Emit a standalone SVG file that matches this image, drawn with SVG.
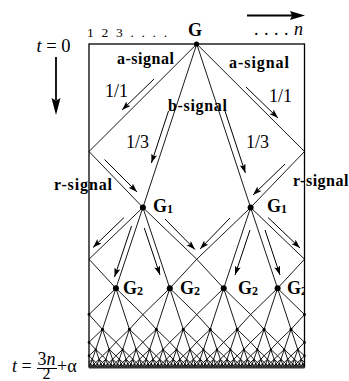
<svg xmlns="http://www.w3.org/2000/svg" width="349" height="381" viewBox="0 0 349 381">
<style>
text{font-family:"Liberation Serif","Times New Roman",serif;fill:#000}
.lbl{font-weight:bold;font-size:16px}
.num{font-size:18px}
.gl{font-weight:bold;font-size:18px}
.sub{font-size:12px}
.sig{fill:none;stroke:#000;stroke-width:0.9;vector-effect:non-scaling-stroke}
.arr{fill:none;stroke:#000;stroke-width:1;marker-end:url(#ah)}
.frame{fill:none;stroke:#000;stroke-width:1.3}
.dot{fill:#000}
</style>
<defs>
<marker id="ah" markerUnits="userSpaceOnUse" markerWidth="10" markerHeight="8" refX="9" refY="3" orient="auto"><path d="M0,0 L9,3 L0,6 L2,3 Z" fill="#000"/></marker>
<path id="c" class="sig" d="M0.5,0 L0,0.64 L0.25,1 M0.5,0 L1,0.64 L0.75,1 M0.5,0 L0.25,1 M0.5,0 L0.75,1"/>
<g id="d1"><use href="#c"/><use href="#c" x="1"/></g>
<g id="d2"><use href="#d1"/><use href="#d1" x="2"/></g>
<g id="d3"><use href="#d2"/><use href="#d2" x="4"/></g>
<g id="d4"><use href="#d3"/><use href="#d3" x="8"/></g>
<g id="d5"><use href="#d4"/><use href="#d4" x="16"/></g>
<g id="d6"><use href="#d5"/><use href="#d5" x="32"/></g>
<clipPath id="wallclip"><rect x="0" y="0" width="304.5" height="381"/></clipPath>
</defs>

<g id="axes">
<line x1="247" y1="15.5" x2="292" y2="15.5" stroke="#000" stroke-width="1.8"/>
<path d="M305,15.5 L290,11 L292,15.5 L290,20 Z" fill="#000"/>
<line x1="56" y1="57" x2="56" y2="100" stroke="#000" stroke-width="1.8"/>
<path d="M56,115 L51.5,98 L56,100.5 L60.5,98 Z" fill="#000"/>
<text x="36.5" y="52" font-size="18.5"><tspan font-style="italic">t</tspan> = 0</text>
<text x="87" y="37" font-size="13.5" textLength="80" lengthAdjust="spacing">1 2 3 . . . .</text>
<text x="254" y="35" font-size="18" textLength="49" lengthAdjust="spacing">. . . . <tspan font-style="italic">n</tspan></text>
<text x="12" y="372" font-size="18"><tspan font-style="italic">t</tspan> =</text>
<text x="37.5" y="365" font-size="18">3<tspan font-style="italic">n</tspan></text>
<line x1="37" y1="368.5" x2="57" y2="368.5" stroke="#000" stroke-width="1"/>
<text x="42.5" y="378.8" font-size="16">2</text>
<text x="57" y="372" font-size="18">+α</text>
</g>

<g id="frame">
<rect class="frame" x="89" y="44" width="215.5" height="323"/>
<line x1="89" y1="367.6" x2="304.5" y2="367.6" stroke="#333" stroke-width="2"/>
</g>

<g id="connectors">
<path class="sig" d="M196.75,44 L89,151.5 L142.9,207.5 M196.75,44 L304.5,151.5 L250.6,207.5 M196.75,44 L142.9,207.5 M196.75,44 L250.6,207.5"/>
<use href="#d1" transform="translate(89,207.5) scale(107.75,80.8)"/>
<use href="#d2" transform="translate(89,288.3) scale(53.875,41)"/>
<use href="#d3" transform="translate(89,329.3) scale(26.9375,20.2)"/>
<use href="#d4" transform="translate(89,349.5) scale(13.46875,9.8)"/>
<use href="#d5" transform="translate(89,359.3) scale(6.734375,4.7)"/>
<use href="#d6" transform="translate(89,364) scale(3.3671875,2.3)"/>
<line x1="102.47" y1="329.3" x2="304" y2="329.3" stroke="#000" stroke-width="3.2" stroke-linecap="round" stroke-dasharray="0 26.9375"/>
<line x1="95.73" y1="349.5" x2="304" y2="349.5" stroke="#000" stroke-width="2.2" stroke-linecap="round" stroke-dasharray="0 13.46875"/>
<circle class="dot" cx="89" cy="314.5" r="1.4"/><circle class="dot" cx="304.5" cy="314.5" r="1.4"/>
<circle class="dot" cx="89" cy="342.4" r="1.3"/><circle class="dot" cx="304.5" cy="342.4" r="1.3"/>
<circle class="dot" cx="89" cy="355.8" r="1.2"/><circle class="dot" cx="304.5" cy="355.8" r="1.2"/>
<line class="arr" x1="154" y1="79" x2="122" y2="110"/>
<line class="arr" x1="246" y1="87" x2="278" y2="118"/>
<line class="arr" x1="168.5" y1="111" x2="151.4" y2="163"/>
<line class="arr" x1="225" y1="111" x2="245.4" y2="173"/>
<line class="arr" x1="104.5" y1="159.5" x2="137" y2="192"/>
<line class="arr" x1="285" y1="164" x2="253" y2="195"/>
<line class="arr" x1="124" y1="217.5" x2="93" y2="247.5"/>
<line class="arr" x1="131.5" y1="226" x2="114.5" y2="277"/>
<line class="arr" x1="144.3" y1="228" x2="160" y2="275"/>
<line class="arr" x1="165" y1="219" x2="195" y2="249.5"/>
<line class="arr" x1="230" y1="218" x2="200" y2="249"/>
<line class="arr" x1="250" y1="230" x2="235" y2="275"/>
<line class="arr" x1="265" y1="230" x2="280" y2="275"/>
<line class="arr" x1="268" y1="217.5" x2="300" y2="248"/>
</g>

<g id="signal-labels">
<text class="lbl" x="117" y="64" textLength="57" lengthAdjust="spacing">a-signal</text>
<text class="lbl" x="229" y="68" textLength="60" lengthAdjust="spacing">a-signal</text>
<text class="lbl" x="168" y="111" textLength="59" lengthAdjust="spacing">b-signal</text>
<text class="lbl" x="54" y="190" textLength="58" lengthAdjust="spacing">r-signal</text>
<text class="lbl" x="293" y="186" textLength="55.5" lengthAdjust="spacing">r-signal</text>
<text class="num" x="105" y="97">1/1</text>
<text class="num" x="269" y="102">1/1</text>
<text class="num" x="126" y="148">1/3</text>
<text class="num" x="246" y="148">1/3</text>
</g>

<g id="node-G"><circle class="dot" cx="196.5" cy="44" r="2.6"/><text class="gl" x="195" y="36" text-anchor="middle">G</text></g>
<g id="node-G1-left"><circle class="dot" cx="142.9" cy="207.5" r="3"/><text class="gl" x="153" y="212">G<tspan class="sub" dy="1">1</tspan></text></g>
<g id="node-G1-right"><circle class="dot" cx="250.6" cy="207.5" r="3"/><text class="gl" x="267" y="212">G<tspan class="sub" dy="1">1</tspan></text></g>
<g id="node-G2-1"><circle class="dot" cx="115.9" cy="288.3" r="3"/><text class="gl" x="123" y="294">G<tspan class="sub" dy="1">2</tspan></text></g>
<g id="node-G2-2"><circle class="dot" cx="169.8" cy="288.3" r="3"/><text class="gl" x="180" y="294">G<tspan class="sub" dy="1">2</tspan></text></g>
<g id="node-G2-3"><circle class="dot" cx="223.7" cy="288.3" r="3"/><text class="gl" x="238" y="294">G<tspan class="sub" dy="1">2</tspan></text></g>
<g id="node-G2-4"><circle class="dot" cx="277.6" cy="288.3" r="3"/><text class="gl" x="287" y="294" clip-path="url(#wallclip)">G<tspan class="sub" dy="1">2</tspan></text></g>
</svg>
